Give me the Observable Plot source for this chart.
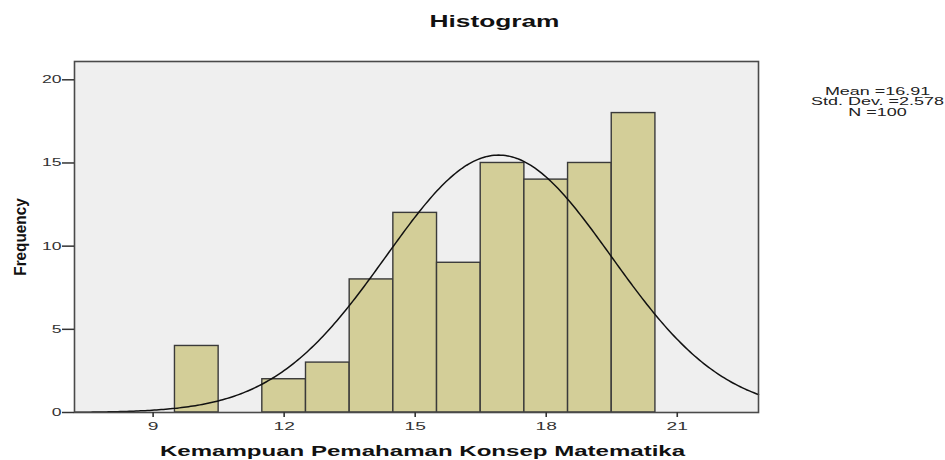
<!DOCTYPE html>
<html>
<head>
<meta charset="utf-8">
<script src="https://cdn.jsdelivr.net/npm/d3@7"></script>
<script src="https://cdn.jsdelivr.net/npm/@observablehq/plot@0.6"></script>
<style>
  html, body { margin: 0; padding: 0; background: #fff; }
  #chart { width: 945px; height: 460px; }
</style>
</head>
<body>
<div id="chart"></div>
<script>
// Histogram bins (lower edge, upper edge) and frequencies
const binStart = [9.5, 11.5, 12.5, 13.5, 14.5, 15.5, 16.5, 17.5, 18.5, 19.5];
const binEnd   = [10.5, 12.5, 13.5, 14.5, 15.5, 16.5, 17.5, 18.5, 19.5, 20.5];
const frequency = [4, 2, 3, 8, 12, 9, 15, 14, 15, 18];

// Summary statistics shown on the chart
const mean = 16.91;
const stdDev = 2.578;
const n = 100;
const binWidth = 1;

// Tick labels
const xTicks = [9, 12, 15, 18, 21];
const yTicks = [0, 5, 10, 15, 20];

// Texts
const title = "Histogram";
const xLabel = "Kemampuan Pemahaman Konsep Matematika";
const yLabel = "Frequency";
const statsText = `Mean =${mean}\nStd. Dev. =${stdDev}\nN =${n}`;

const bins = binStart.map((s, i) => ({x1: s, x2: binEnd[i], y: frequency[i]}));

const xDomain = [7.2, 22.86];
const yDomain = [0, 21.1];

// Fitted normal curve from the stated mean, std. dev. and N
const curve = d3.range(0, 301).map(i => {
  const x = xDomain[0] + (xDomain[1] - xDomain[0]) * i / 300;
  const z = (x - mean) / stdDev;
  return {x, y: n * binWidth / (stdDev * Math.sqrt(2 * Math.PI)) * Math.exp(-0.5 * z * z)};
});

const font = "'Liberation Sans', Arial, sans-serif";

const chart = Plot.plot({
  width: 945,
  height: 460,
  marginTop: 61,
  marginBottom: 48,
  marginLeft: 74,
  marginRight: 187,
  style: {fontFamily: font, fontSize: "11px", color: "#222", background: "#fff"},
  x: {domain: xDomain, label: null},
  y: {domain: yDomain, label: null},
  marks: [
    Plot.frame({fill: "#efefef", stroke: "none"}),
    Plot.rectY(bins, {x1: "x1", x2: "x2", y: "y", fill: "#d3ce98", stroke: "#3a3a3a", strokeWidth: 1.4}),
    Plot.line(curve, {x: "x", y: "y", stroke: "#111", strokeWidth: 1.5}),
    Plot.frame({stroke: "#4a4a4a", strokeWidth: 1.6}),
    Plot.axisX({ticks: xTicks, tickSize: 5, tickPadding: 5, stroke: "#333", strokeWidth: 1.6, fill: "#333", fontSize: 11, className: "xt"}),
    Plot.axisY({ticks: yTicks, tickSize: 12, tickPadding: 1, stroke: "#333", strokeWidth: 1.5, fill: "#333", fontSize: 11, className: "yt"}),
    Plot.text([title], {frameAnchor: "top", dx: 78, dy: -46, text: d => d, fontSize: 16, fontWeight: "bold", fill: "#111", className: "ttl"}),
    Plot.text([xLabel], {frameAnchor: "bottom", dx: 6, dy: 43, text: d => d, fontSize: 14, fontWeight: "bold", fill: "#111", className: "xl"}),
    Plot.text([yLabel], {frameAnchor: "left", dx: -54, rotate: -90, textAnchor: "middle", text: d => d, fontSize: 17, fontWeight: "bold", fill: "#111", className: "yl"}),
    Plot.text([statsText], {frameAnchor: "top-right", dx: 119, dy: 26, textAnchor: "middle", lineHeight: 0.95, text: d => d, fontSize: 11, fill: "#222", className: "st"})
  ]
});
document.getElementById("chart").appendChild(chart);

// Horizontally stretch texts like the reference rendering
function stretch(sel, s) {
  chart.querySelectorAll(sel).forEach(el => {
    const x = +el.getAttribute("x") || 0, y = +el.getAttribute("y") || 0;
    const t = el.getAttribute("transform") || "";
    el.setAttribute("transform", `${t} translate(${x},${y}) scale(${s},1) translate(${-x},${-y})`);
  });
}
function fitWidth(sel, w) {
  const el = chart.querySelector(sel);
  if (!el) return;
  const bw = el.getBBox().width;
  if (bw > 0) stretch(sel, w / bw);
}
stretch(".xt text", 1.75);
stretch(".yt text", 1.6);
fitWidth(".ttl text", 130);
fitWidth(".xl text", 526);
fitWidth(".yl text", 78);
fitWidth(".st text", 133);
</script>
</body>
</html>
